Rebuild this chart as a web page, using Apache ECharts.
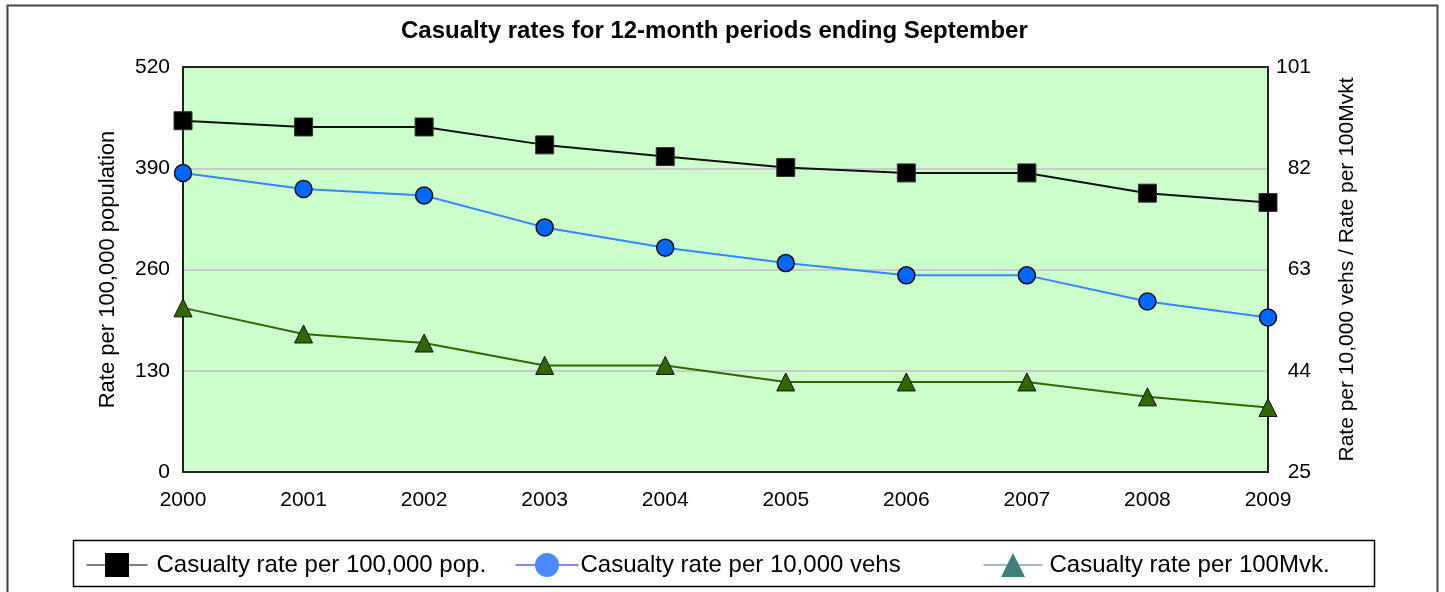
<!DOCTYPE html>
<html>
<head>
<meta charset="utf-8">
<script src="https://cdn.jsdelivr.net/npm/echarts@6/dist/echarts.min.js"></script>
<style>
html,body{margin:0;padding:0;background:#fff;}
#chart{width:1445px;height:592px;}
</style>
</head>
<body>
<div id="chart"></div>
<script>
const years = ['2000','2001','2002','2003','2004','2005','2006','2007','2008','2009'];
const popRate = [451, 443, 443, 420, 405, 391, 384, 384, 358, 346];
const vehRate = [81.1, 78.1, 76.9, 70.9, 67.1, 64.2, 61.9, 61.9, 57.0, 54.0];
const mvkRate = [55.8, 50.9, 49.2, 45.0, 45.0, 41.9, 41.9, 41.9, 39.1, 37.1];
const seriesNames = ['Casualty rate per 100,000 pop.', 'Casualty rate per 10,000 vehs', 'Casualty rate per 100Mvk.'];
const titleText = 'Casualty rates for 12-month periods ending September';
const leftAxisName = 'Rate per 100,000 population';
const rightAxisName = 'Rate per 10,000 vehs / Rate per 100Mvkt';

const FONT = '"Liberation Sans", Arial, sans-serif';
const chart = echarts.init(document.getElementById('chart'));

function legendFor(idx, left, itemWidth, textPad, icon) {
  return {
    show: true,
    left: left,
    top: 553,
    padding: 0,
    itemWidth: itemWidth,
    itemHeight: 30,
    data: [Object.assign({ name: seriesNames[idx] }, icon)],
    textStyle: { fontFamily: FONT, fontSize: 24, color: '#000', padding: [0, 0, 0, textPad] },
    selectedMode: false
  };
}

chart.setOption({
  animation: false,
  backgroundColor: '#fff',
  title: {
    text: titleText,
    left: 401,
    top: 19,
    padding: 0,
    textStyle: { fontFamily: FONT, fontSize: 24, fontWeight: 'bold', color: '#000' }
  },
  graphic: [
    { type: 'rect', shape: { x: 7.5, y: 5.5, width: 1430, height: 600 }, style: { fill: 'none', stroke: '#444', lineWidth: 2 }, silent: true },
    { type: 'rect', shape: { x: 73.5, y: 540.5, width: 1301, height: 46 }, style: { fill: 'none', stroke: '#000', lineWidth: 1.5 }, silent: true }
  ],
  legend: [
    legendFor(0, 86, 61, 4, { itemStyle: { color: '#000', borderWidth: 0 }, lineStyle: { color: '#000', width: 1 } }),
    legendFor(1, 515, 63, -3, { itemStyle: { color: '#4d88ff', borderWidth: 0 }, lineStyle: { color: '#2200dd', width: 1 } }),
    legendFor(2, 983, 59, 2, { itemStyle: { color: '#3f7f7a', borderWidth: 0 }, lineStyle: { color: '#3f7f7a', width: 1 } })
  ],
  grid: {
    left: 183, right: 177, top: 67, bottom: 120,
    show: true, backgroundColor: '#ccffcc', borderColor: '#222', borderWidth: 2,
    outerBoundsMode: 'none'
  },
  xAxis: {
    type: 'category',
    data: years,
    boundaryGap: false,
    axisLine: { show: true, lineStyle: { color: '#222', width: 2 } },
    axisTick: { show: false },
    splitLine: { show: false },
    axisLabel: { fontFamily: FONT, fontSize: 21, color: '#000', margin: 18, interval: 0 }
  },
  yAxis: [
    {
      type: 'value', min: 0, max: 520, interval: 130, position: 'left',
      name: leftAxisName, nameLocation: 'middle', nameRotate: 90, nameGap: 64,
      nameTextStyle: { fontFamily: FONT, fontSize: 22, color: '#000' },
      axisLine: { show: true, lineStyle: { color: '#222', width: 2 } }, axisTick: { show: false },
      axisLabel: { fontFamily: FONT, fontSize: 21, color: '#000', margin: 13 },
      splitLine: { show: true, showMinLine: false, showMaxLine: false, lineStyle: { color: '#cccccc', width: 2 } }
    },
    {
      type: 'value', min: 25, max: 101, interval: 19, position: 'right',
      name: rightAxisName, nameLocation: 'middle', nameRotate: 90, nameGap: 69,
      nameTextStyle: { fontFamily: FONT, fontSize: 21, color: '#000' },
      axisLine: { show: true, lineStyle: { color: '#222', width: 2 } }, axisTick: { show: false },
      axisLabel: { fontFamily: FONT, fontSize: 21, color: '#000', margin: 43, align: 'right' },
      splitLine: { show: false }
    }
  ],
  series: [
    {
      name: seriesNames[0], type: 'line', yAxisIndex: 0, data: popRate,
      symbol: 'rect', symbolSize: 18,
      lineStyle: { color: '#111', width: 2 },
      itemStyle: { color: '#000', borderColor: '#333', borderWidth: 1 },
      z: 4
    },
    {
      name: seriesNames[1], type: 'line', yAxisIndex: 1, data: vehRate,
      symbol: 'circle', symbolSize: 17,
      lineStyle: { color: '#3388ff', width: 2 },
      itemStyle: { color: '#0066ff', borderColor: '#111', borderWidth: 1.5 },
      z: 3
    },
    {
      name: seriesNames[2], type: 'line', yAxisIndex: 1, data: mvkRate,
      symbol: 'triangle', symbolSize: 18,
      lineStyle: { color: '#336600', width: 2 },
      itemStyle: { color: '#336600', borderColor: '#111', borderWidth: 1 },
      z: 2
    }
  ]
});
</script>
</body>
</html>
